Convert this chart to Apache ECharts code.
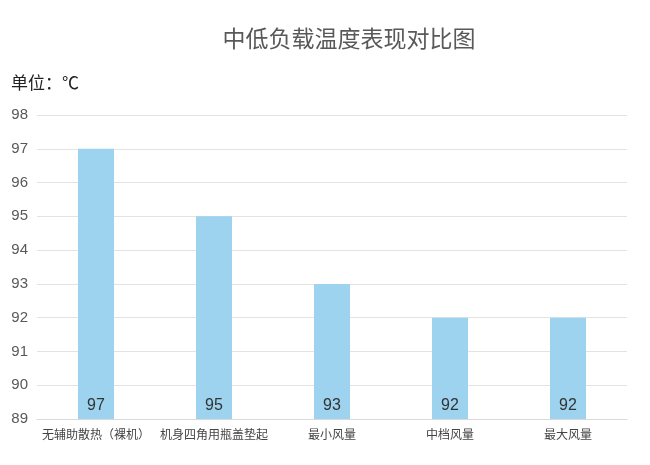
<!DOCTYPE html>
<html style="height: 100%">
  <head>
    <meta charset="utf-8" />
    <title>ECharts</title>
    <script src="https://cdn.jsdelivr.net/npm/echarts@6/dist/echarts.min.js"></script>
  </head>
  <body style="height: 100%; margin: 0; background: #fff">
    <div id="container" style="width: 650px; height: 465px"></div>
    <script type="text/javascript">
      var categories = ['无辅助散热（裸机）', '机身四角用瓶盖垫起', '最小风量', '中档风量', '最大风量'];
      var temps = [97, 95, 93, 92, 92];
      var yMin = 89, yMax = 98;

      var myChart = echarts.init(document.getElementById('container'));
      myChart.setOption({
        backgroundColor: '#fff',
        animation: false,
        title: [
          {
            text: '中低负载温度表现对比图',
            left: 344, top: 22, textAlign: 'center',
            textStyle: { fontSize: 23, fontWeight: 'normal', color: '#595959', fontFamily: 'Noto Sans CJK SC' }
          },
          {
            text: '单位：℃',
            left: 6, top: 69,
            textStyle: { fontSize: 17, fontWeight: 'normal', color: '#222', fontFamily: 'Noto Sans CJK SC' }
          }
        ],
        grid: { left: 37, right: 23, top: 115, bottom: 46 },
        xAxis: {
          type: 'category',
          data: categories,
          axisLine: { lineStyle: { color: '#d9d9d9' } },
          axisTick: { show: false },
          axisLabel: { color: '#444', fontSize: 12, margin: 9, interval: 0, fontFamily: 'Noto Sans CJK SC' }
        },
        yAxis: {
          type: 'value',
          min: yMin, max: yMax, interval: 1,
          axisLine: { show: false },
          axisTick: { show: false },
          splitLine: { lineStyle: { color: '#e3e3e3' } },
          axisLabel: { color: '#595959', fontSize: 15, margin: 9, fontFamily: 'Liberation Sans' }
        },
        series: [{
          type: 'bar',
          data: temps,
          barWidth: 36,
          itemStyle: { color: '#9dd3ee' },
          label: {
            show: true, position: 'insideBottom', distance: 5,
            color: '#333', fontSize: 16, fontFamily: 'Liberation Sans'
          }
        }]
      });
    </script>
  </body>
</html>
